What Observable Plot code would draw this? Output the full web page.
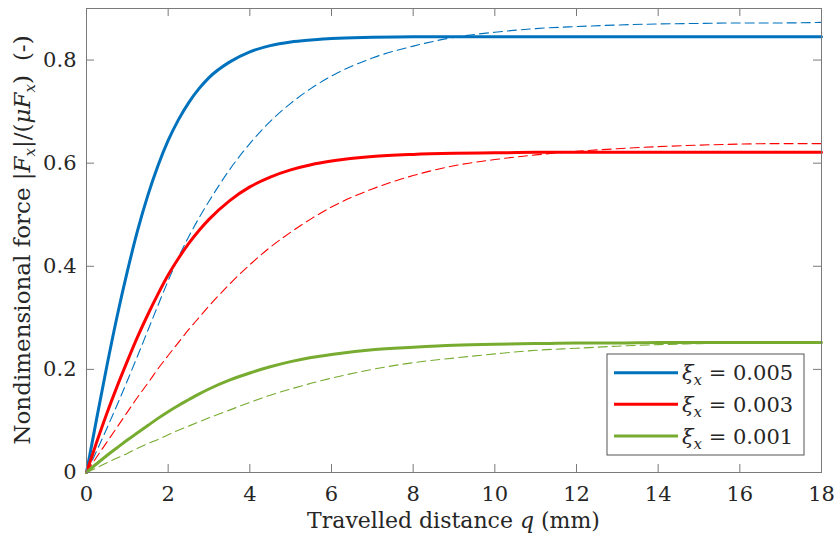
<!DOCTYPE html>
<html>
<head>
<meta charset="utf-8">
<script src="https://cdn.jsdelivr.net/npm/d3@7"></script>
<script src="https://cdn.jsdelivr.net/npm/@observablehq/plot@0.6"></script>
<style>
  html, body { margin: 0; padding: 0; background: #fff; }
</style>
</head>
<body>
<div id="chart"></div>
<script>
// ---- data ----
const qGrid = [0, 0.25, 0.5, 0.75, 1, 1.25, 1.5, 1.75, 2, 2.25, 2.5, 2.75, 3, 3.5, 4, 4.5, 5, 5.5, 6, 7, 8, 9, 10, 11, 12, 13, 14, 15, 16, 17, 18];

const blueSolid   = [0, 0.105, 0.207, 0.303, 0.390, 0.469, 0.537, 0.595, 0.644, 0.684, 0.717, 0.744, 0.766, 0.796, 0.816, 0.828, 0.835, 0.839, 0.842, 0.844, 0.845, 0.845, 0.845, 0.845, 0.845, 0.845, 0.845, 0.845, 0.845, 0.845, 0.845];
const blueDashed  = [0, 0.042, 0.086, 0.131, 0.178, 0.226, 0.275, 0.324, 0.372, 0.417, 0.457, 0.493, 0.526, 0.587, 0.638, 0.681, 0.716, 0.745, 0.769, 0.804, 0.827, 0.844, 0.854, 0.861, 0.865, 0.868, 0.870, 0.871, 0.872, 0.872, 0.873];
const redSolid    = [0, 0.059, 0.115, 0.167, 0.216, 0.263, 0.306, 0.346, 0.383, 0.415, 0.444, 0.469, 0.491, 0.527, 0.554, 0.573, 0.587, 0.597, 0.604, 0.613, 0.617, 0.619, 0.620, 0.621, 0.621, 0.621, 0.621, 0.621, 0.621, 0.621, 0.621];
const redDashed   = [0, 0.030, 0.059, 0.088, 0.117, 0.146, 0.173, 0.201, 0.227, 0.252, 0.277, 0.300, 0.323, 0.365, 0.403, 0.437, 0.466, 0.492, 0.515, 0.550, 0.576, 0.595, 0.607, 0.616, 0.623, 0.628, 0.632, 0.635, 0.637, 0.638, 0.638];
const greenSolid  = [0, 0.017, 0.033, 0.048, 0.063, 0.077, 0.091, 0.105, 0.118, 0.130, 0.141, 0.152, 0.162, 0.179, 0.193, 0.205, 0.215, 0.223, 0.229, 0.238, 0.243, 0.247, 0.249, 0.250, 0.251, 0.251, 0.252, 0.252, 0.252, 0.252, 0.252];
const greenDashed = [0, 0.009, 0.019, 0.028, 0.037, 0.047, 0.056, 0.064, 0.073, 0.082, 0.090, 0.098, 0.106, 0.121, 0.136, 0.150, 0.162, 0.173, 0.183, 0.200, 0.213, 0.222, 0.230, 0.237, 0.241, 0.245, 0.248, 0.250, 0.252, 0.253, 0.254];

const xiValues = ["0.005", "0.003", "0.001"];
const seriesColors = ["#0072BD", "#FF0000", "#77AC30"];

const xTicks = [0, 2, 4, 6, 8, 10, 12, 14, 16, 18];
const yTicks = [0, 0.2, 0.4, 0.6, 0.8];
const yTickLabels = ["0", "0.2", "0.4", "0.6", "0.8"];

// ---- build tables ----
const solidSets  = [blueSolid, redSolid, greenSolid];
const dashedSets = [blueDashed, redDashed, greenDashed];
const solidRows  = solidSets.flatMap((arr, s) => arr.map((v, i) => ({q: qGrid[i], v, xi: xiValues[s]})));
const dashedRows = dashedSets.flatMap((arr, s) => arr.map((v, i) => ({q: qGrid[i], v, xi: xiValues[s]})));

// ---- layout ----
const W = 834, H = 541, mL = 86, mR = 13, mT = 8, mB = 69;
const innerW = W - mL - mR, innerH = H - mT - mB;
const axisColor = "#7a7a7a";
const FONT = "'DejaVu Serif', 'Liberation Serif', serif";
const FS = 21;

const plot = Plot.plot({
  width: W, height: H,
  marginLeft: mL, marginRight: mR, marginTop: mT, marginBottom: mB,
  style: {fontFamily: FONT, fontSize: FS + "px", background: "white", color: "#262626", overflow: "visible"},
  x: {domain: [0, 18]},
  y: {domain: [0, 0.9]},
  color: {domain: xiValues, range: seriesColors},
  marks: [
    Plot.line(dashedRows, {x: "q", y: "v", z: "xi", stroke: "xi", strokeWidth: 1.1, strokeDasharray: "9,5", curve: "monotone-x"}),
    Plot.line(solidRows,  {x: "q", y: "v", z: "xi", stroke: "xi", strokeWidth: 3, curve: "monotone-x"}),
    Plot.frame({stroke: axisColor, strokeWidth: 1}),
    Plot.tickX(xTicks, {x: d => d, stroke: axisColor, insetTop: innerH - 8}),
    Plot.tickX(xTicks, {x: d => d, stroke: axisColor, insetBottom: innerH - 8}),
    Plot.tickY(yTicks, {y: d => d, stroke: axisColor, insetRight: innerW - 8}),
    Plot.tickY(yTicks, {y: d => d, stroke: axisColor, insetLeft: innerW - 8}),
    Plot.axisX({ticks: xTicks, tickSize: 0, tickPadding: 14, label: null}),
    Plot.axisY({ticks: yTicks, tickSize: 0, tickPadding: 10, label: null,
      tickFormat: d => yTickLabels[yTicks.findIndex(t => Math.abs(t - d) < 1e-9)]})
  ]
});
document.getElementById("chart").appendChild(plot);

// ---- axis titles and legend (text with math styling) ----
const svg = d3.select(plot);
const subFS = 15;

function addMath(textSel, parts) {
  // parts: [text, style] where style: "n" normal, "i" italic, "s" italic subscript
  let shifted = false;
  parts.forEach(([t, st, dx]) => {
    const ts = textSel.append("tspan").text(t);
    if (st === "i") ts.attr("font-style", "italic");
    let dy = 0;
    if (st === "s") {
      ts.attr("font-style", "italic").attr("font-size", subFS);
      dy = 5; shifted = true;
    } else if (shifted) {
      dy = -5; shifted = false;
    }
    if (dy) ts.attr("dy", dy);
    if (dx) ts.attr("dx", dx);
  });
}

// x label
const xl = svg.append("text")
  .attr("x", mL + innerW / 2).attr("y", 528)
  .attr("text-anchor", "middle").attr("font-size", 22).attr("fill", "#262626");
addMath(xl, [["Travelled distance ", "n"], ["q", "i"], [" (mm)", "n"]]);

// y label
const yl = svg.append("text")
  .attr("transform", `translate(30,${mT + innerH / 2}) rotate(-90)`)
  .attr("text-anchor", "middle").attr("font-size", 23).attr("fill", "#262626");
addMath(yl, [["Nondimensional force |", "n"], ["F", "i"], ["x", "s"], ["|/(", "n"], ["μF", "i"], ["x", "s"], [")", "n"], ["(-)", "n", 14]]);

// legend
const lg = svg.append("g").attr("transform", "translate(607,354)").attr("text-anchor", "start");
lg.append("rect").attr("width", 197).attr("height", 101).attr("fill", "white").attr("stroke", "#555").attr("stroke-width", 1);
const rowY = [18.7, 50.3, 82];
xiValues.forEach((xi, i) => {
  lg.append("line").attr("x1", 7).attr("x2", 71).attr("y1", rowY[i]).attr("y2", rowY[i])
    .attr("stroke", seriesColors[i]).attr("stroke-width", 3);
  const t = lg.append("text").attr("x", 75).attr("y", rowY[i] + 7.5)
    .attr("text-anchor", "start").attr("font-size", FS).attr("fill", "#262626");
  addMath(t, [["ξ", "i"], ["x", "s"], [" = " + xi, "n"]]);
});
</script>
</body>
</html>
